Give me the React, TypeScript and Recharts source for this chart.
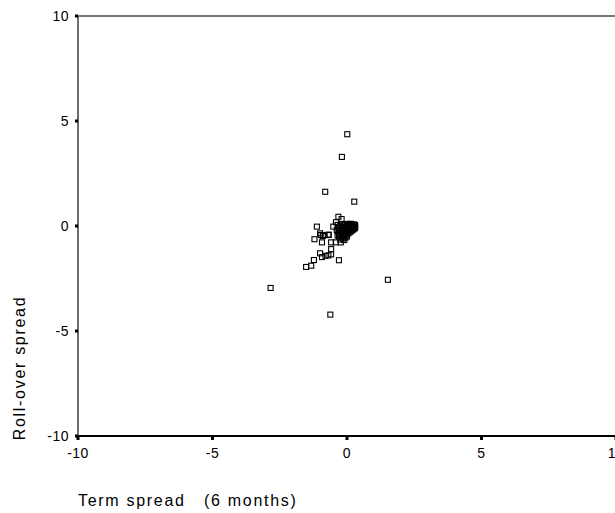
import React from "react";
import { ScatterChart, Scatter, XAxis, YAxis, ReferenceLine } from "recharts";

// Term spread (6 months) values
const termSpread: number[] = [
  0.01, -0.19, -0.81, 0.27, -2.84, 1.52, -0.62, -1.52, -1.33, -1.23,
  -0.3, -1.0, -0.93, -0.69, -0.59, -0.59, -1.12, -1.21, -0.93, -1.0,
  -0.9, -0.68, -0.59, -0.51, -0.32, -0.2, -0.41, -0.23, -0.1, -0.42,
  -0.38, -0.98, -0.69, -0.83, -0.8,
  0.3, 0.3, 0.3, 0.3, 0.25, 0.25, 0.25, 0.25, 0.2, 0.2, 0.2, 0.2,
  0.15, 0.15, 0.15, 0.15, 0.1, 0.1, 0.1, 0.1, 0.1, 0.05, 0.05, 0.05, 0.05,
  0.0, 0.0, 0.0, 0.0, 0.0, -0.05, -0.05, -0.05, -0.1, -0.1, -0.1, -0.1,
  -0.15, -0.15, -0.15, -0.15, -0.2, -0.2, -0.2, -0.2, -0.25, -0.25, -0.25, -0.25,
  -0.3, -0.3, -0.3, -0.35, -0.35, -0.35,
];

// Roll-over spread values, paired with termSpread
const rollOverSpread: number[] = [
  4.37, 3.29, 1.63, 1.16, -2.95, -2.56, -4.22, -1.95, -1.89, -1.62,
  -1.63, -1.3, -1.48, -1.4, -1.35, -1.1, -0.03, -0.63, -0.78, -0.35,
  -0.48, -0.41, -0.78, -0.03, 0.44, 0.33, 0.18, -0.78, -0.67, -0.78,
  -0.19, -0.43, -0.43, -0.43, -1.42,
  0.0, -0.05, 0.05, -0.1, 0.02, -0.08, -0.15, 0.08, 0.0, -0.12, -0.2, 0.05,
  -0.03, -0.18, -0.25, 0.1, 0.0, -0.1, -0.2, -0.3, 0.1, -0.05, -0.15, -0.35, 0.05,
  0.0, -0.2, -0.4, -0.5, 0.1, -0.1, -0.3, -0.55, 0.05, -0.15, -0.35, -0.5,
  -0.05, -0.25, -0.45, -0.6, 0.1, -0.1, -0.3, -0.55, 0.0, -0.2, -0.4, -0.65,
  -0.1, -0.35, -0.5, 0.05, -0.25, -0.45,
];

const axisTicks: number[] = [-10, -5, 0, 5, 10];

const points = termSpread.map((x, i) => ({ x, y: rollOverSpread[i] }));

const FONT = "'Liberation Sans', Arial, Helvetica, sans-serif";

const SquareMarker = (props: any) => {
  const { cx, cy } = props;
  if (cx == null || cy == null) return null;
  return (
    <rect
      x={cx - 2.5}
      y={cy - 2.5}
      width={5}
      height={5}
      fill="none"
      stroke="#000"
      strokeWidth={1.1}
    />
  );
};

const YTick = (props: any) => {
  const { x, y, payload } = props;
  return (
    <g>
      <rect x={x - 3} y={y - 1.5} width={3} height={3} fill="#000" />
      <text
        x={x - 9}
        y={y + 5}
        textAnchor="end"
        fontFamily={FONT}
        fontSize={14}
        letterSpacing={0.5}
        fill="#000"
      >
        {payload.value}
      </text>
    </g>
  );
};

const XTick = (props: any) => {
  const { x, y, payload } = props;
  return (
    <g>
      <rect x={x - 1.5} y={y + 1} width={3} height={3} fill="#000" />
      <text
        x={x}
        y={y + 22}
        textAnchor="middle"
        fontFamily={FONT}
        fontSize={14}
        letterSpacing={0.5}
        fill="#000"
      >
        {payload.value}
      </text>
    </g>
  );
};

const XTitle = () => (
  <text
    x={78}
    y={506}
    fontFamily={FONT}
    fontSize={16}
    letterSpacing={1.7}
    fill="#000"
    style={{ whiteSpace: "pre" }}
  >
    {"Term spread   (6 months)"}
  </text>
);

const YTitle = () => (
  <text
    x={0}
    y={0}
    transform="translate(25, 368) rotate(-90)"
    textAnchor="middle"
    fontFamily={FONT}
    fontSize={16}
    letterSpacing={1.7}
    fill="#000"
  >
    Roll-over spread
  </text>
);

export default function App() {
  return (
    <div
      style={{
        position: "absolute",
        left: 0,
        top: 0,
        width: 615,
        height: 513,
        overflow: "hidden",
        background: "#fff",
      }}
    >
      <ScatterChart
        width={620}
        height={513}
        margin={{ top: 16, right: 4, bottom: 0, left: 0 }}
      >
        <XAxis
          type="number"
          dataKey="x"
          domain={[-10, 10]}
          ticks={axisTicks}
          interval={0}
          height={77}
          tickSize={0}
          tickMargin={0}
          tickLine={false}
          axisLine={{ stroke: "#000", strokeWidth: 2 }}
          tick={<XTick />}
          label={{ content: () => <XTitle /> }}
        />
        <YAxis
          type="number"
          dataKey="y"
          domain={[-10, 10]}
          ticks={axisTicks}
          interval={0}
          width={78}
          tickSize={0}
          tickMargin={0}
          tickLine={false}
          axisLine={{ stroke: "#4a4a4a", strokeWidth: 1.6 }}
          tick={<YTick />}
          label={{ content: () => <YTitle /> }}
        />
        <ReferenceLine y={10} stroke="#4a4a4a" strokeWidth={1.6} />
        <Scatter
          data={points}
          shape={<SquareMarker />}
          isAnimationActive={false}
        />
      </ScatterChart>
    </div>
  );
}
